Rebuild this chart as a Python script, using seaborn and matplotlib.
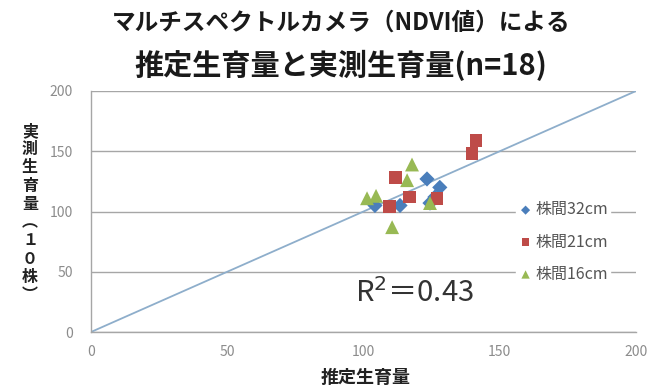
import matplotlib
matplotlib.use("Agg")
import matplotlib.pyplot as plt
import seaborn as sns
import pandas as pd

sns.set_theme(style="white")
plt.rcParams["font.family"] = ["Noto Sans CJK JP", "DejaVu Sans"]

# 推定生育量 (x) と実測生育量 (y)、株間ごと
est_32 = [123.3, 128.0, 113.4, 104.2, 124.4, 126.2]
obs_32 = [127.0, 120.0, 105.0, 105.0, 107.0, 112.0]
est_21 = [141.3, 139.8, 111.6, 117.0, 109.4, 127.0]
obs_21 = [159.0, 148.0, 128.0, 112.0, 104.0, 111.0]
est_16 = [117.8, 116.0, 101.3, 104.6, 110.5, 124.4]
obs_16 = [139.0, 126.0, 111.0, 113.0, 87.0, 107.0]
groups = ["株間32cm", "株間21cm", "株間16cm"]
r2_value = 0.43
ticks = [0, 50, 100, 150, 200]

df = pd.DataFrame({
    "推定生育量": est_32 + est_21 + est_16,
    "実測生育量": obs_32 + obs_21 + obs_16,
    "株間": [groups[0]] * len(est_32) + [groups[1]] * len(est_21) + [groups[2]] * len(est_16),
})

palette = {groups[0]: "#4a7ebb", groups[1]: "#be4b48", groups[2]: "#98b954"}
markers = {groups[0]: "D", groups[1]: "s", groups[2]: "^"}
sizes = {groups[0]: 60, groups[1]: 85, groups[2]: 100}

W, H = 668, 388
fig = plt.figure(figsize=(W / 100, H / 100), dpi=100)
ax = fig.add_axes([91 / W, 1 - 332 / H, (636 - 91) / W, (332 - 91) / H])

# 1:1 line
ax.plot([0, 200], [0, 200], color="#8eaecb", lw=1.3, zorder=1)

for g in groups:
    sub = df[df["株間"] == g]
    sns.scatterplot(data=sub, x="推定生育量", y="実測生育量", ax=ax,
                    color=palette[g], marker=markers[g], s=sizes[g],
                    edgecolor="none", label=g, zorder=3)

ax.set_xlim(0, 200)
ax.set_ylim(0, 200)
ax.set_xticks(ticks)
ax.set_yticks(ticks)
ax.grid(axis="y", color="#a6a6a6", lw=1.0)
ax.set_axisbelow(True)
for side in ["top", "right"]:
    ax.spines[side].set_visible(False)
for side in ["left", "bottom"]:
    ax.spines[side].set_color("#a6a6a6")
    ax.spines[side].set_linewidth(1.0)
ax.tick_params(axis="both", colors="#a6a6a6", labelcolor="#8c8c8c",
               labelsize=10, length=4, width=1)
ax.tick_params(axis="y", pad=9)
ax.tick_params(axis="x", direction="inout", length=7, pad=6)

ax.set_xlabel("")
ax.set_ylabel("")
fig.text(366 / W, 1 - 377 / H, "推定生育量", fontsize=13, fontweight="bold",
         color="#222222", ha="center", va="center")
fig.text(30 / W, 1 - 213 / H, "\n".join("実測生育量︵１０株︶"),
         fontsize=11.5, fontweight="bold", color="#222222",
         ha="center", va="center", linespacing=1.17)

fig.text(341 / W, 1 - 23 / H, "マルチスペクトルカメラ（NDVI値）による",
         fontsize=17, fontweight="bold", color="#1a1a1a", ha="center", va="center")
fig.text(341 / W, 1 - 65 / H, "推定生育量と実測生育量(n=18)",
         fontsize=21, fontweight="bold", color="#1a1a1a", ha="center", va="center")

ax.text(97, 25, "R$^{2}$＝" + f"{r2_value:.2f}",
        fontsize=21, color="#333333", ha="left", va="baseline")

leg = fig.legend(*ax.get_legend_handles_labels(), loc="center left",
                 bbox_to_anchor=(508 / W, 1 - 242 / H), frameon=True,
                 facecolor="white", edgecolor="white", framealpha=1,
                 fontsize=11.5, labelspacing=0.95, handletextpad=0.15,
                 handlelength=1.0, borderpad=0.1, markerscale=0.6)
ax.get_legend().remove()
for t in leg.get_texts():
    t.set_color("#555555")

fig.savefig("out.png", dpi=100, facecolor="white")
